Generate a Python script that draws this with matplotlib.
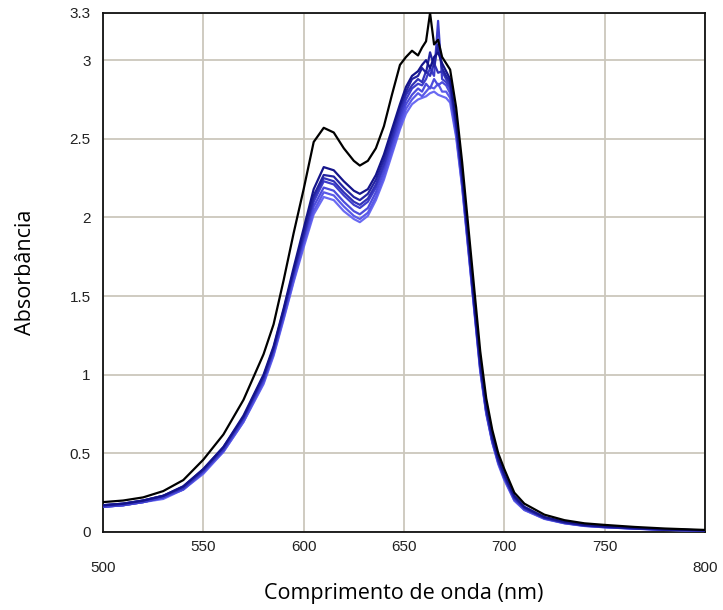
import matplotlib
matplotlib.use('Agg')
import matplotlib.pyplot as plt

# wavelengths (nm)
wl = [500, 510, 520, 530, 540, 550, 560, 570, 580, 585, 590, 595, 600, 605, 610, 615,
      620, 625, 628, 632, 636, 640, 644, 648, 651, 654, 657, 659, 661, 663, 665, 667,
      669, 671, 673, 676, 679, 682, 685, 688, 691, 694, 697, 700, 705, 710, 720, 730,
      740, 750, 765, 780, 800]

black = [0.19, 0.20, 0.22, 0.26, 0.33, 0.46, 0.62, 0.84, 1.13, 1.32, 1.60, 1.90, 2.18, 2.48, 2.57, 2.54,
         2.44, 2.36, 2.33, 2.36, 2.44, 2.58, 2.78, 2.97, 3.02, 3.06, 3.03, 3.08, 3.12, 3.30, 3.10, 3.13,
         3.02, 2.98, 2.94, 2.70, 2.35, 1.95, 1.55, 1.15, 0.85, 0.65, 0.50, 0.40, 0.25, 0.18, 0.11, 0.075,
         0.055, 0.045, 0.032, 0.022, 0.013]

blue1 = [0.17, 0.18, 0.20, 0.23, 0.29, 0.40, 0.54, 0.74, 1.00, 1.18, 1.42, 1.68, 1.93, 2.18, 2.32, 2.30,
         2.23, 2.17, 2.15, 2.18, 2.27, 2.40, 2.56, 2.72, 2.83, 2.90, 2.93, 2.97, 3.00, 2.95, 3.02, 3.05,
         2.98, 2.93, 2.88, 2.62, 2.28, 1.88, 1.47, 1.08, 0.80, 0.61, 0.47, 0.37, 0.23, 0.16, 0.095, 0.065,
         0.045, 0.035, 0.025, 0.017, 0.010]
blue2 = [0.17, 0.18, 0.20, 0.23, 0.29, 0.40, 0.54, 0.73, 0.99, 1.17, 1.41, 1.66, 1.90, 2.14, 2.27, 2.26,
         2.19, 2.13, 2.11, 2.15, 2.24, 2.37, 2.53, 2.70, 2.80, 2.88, 2.90, 2.95, 2.92, 3.05, 2.96, 3.10,
         2.95, 2.90, 2.86, 2.60, 2.26, 1.86, 1.46, 1.07, 0.79, 0.60, 0.46, 0.36, 0.22, 0.155, 0.092, 0.062,
         0.043, 0.034, 0.024, 0.016, 0.010]
blue3 = [0.17, 0.18, 0.20, 0.23, 0.28, 0.39, 0.53, 0.73, 0.98, 1.16, 1.40, 1.65, 1.88, 2.12, 2.25, 2.23,
         2.16, 2.10, 2.08, 2.12, 2.21, 2.34, 2.50, 2.67, 2.78, 2.84, 2.88, 2.86, 2.93, 2.90, 2.98, 2.92,
         2.93, 2.88, 2.84, 2.58, 2.25, 1.85, 1.45, 1.06, 0.78, 0.59, 0.45, 0.35, 0.22, 0.15, 0.09, 0.06,
         0.042, 0.033, 0.023, 0.015, 0.010]
blue4 = [0.16, 0.17, 0.19, 0.22, 0.28, 0.39, 0.52, 0.72, 0.97, 1.15, 1.39, 1.64, 1.87, 2.10, 2.23, 2.21,
         2.14, 2.08, 2.06, 2.10, 2.19, 2.32, 2.48, 2.64, 2.75, 2.82, 2.85, 2.84, 2.88, 2.95, 2.90, 3.25,
         2.88, 2.86, 2.82, 2.57, 2.24, 1.84, 1.44, 1.05, 0.77, 0.58, 0.45, 0.35, 0.21, 0.15, 0.088, 0.058,
         0.041, 0.032, 0.022, 0.015, 0.009]
blue5 = [0.16, 0.17, 0.19, 0.22, 0.27, 0.38, 0.52, 0.71, 0.96, 1.14, 1.37, 1.62, 1.85, 2.07, 2.19, 2.17,
         2.10, 2.04, 2.02, 2.06, 2.16, 2.29, 2.45, 2.61, 2.72, 2.78, 2.82, 2.80, 2.85, 2.82, 2.88, 2.84,
         2.86, 2.84, 2.79, 2.55, 2.22, 1.82, 1.43, 1.04, 0.76, 0.58, 0.44, 0.34, 0.21, 0.145, 0.086, 0.057,
         0.040, 0.031, 0.022, 0.014, 0.009]
blue6 = [0.16, 0.17, 0.19, 0.22, 0.27, 0.38, 0.51, 0.70, 0.95, 1.13, 1.36, 1.60, 1.83, 2.04, 2.16, 2.14,
         2.07, 2.01, 1.99, 2.03, 2.13, 2.26, 2.42, 2.58, 2.69, 2.75, 2.79, 2.77, 2.80, 2.83, 2.82, 2.85,
         2.80, 2.80, 2.76, 2.53, 2.20, 1.81, 1.42, 1.03, 0.76, 0.57, 0.44, 0.34, 0.20, 0.14, 0.085, 0.056,
         0.039, 0.030, 0.021, 0.014, 0.009]
blue7 = [0.16, 0.17, 0.19, 0.21, 0.27, 0.37, 0.51, 0.70, 0.94, 1.12, 1.35, 1.59, 1.81, 2.02, 2.13, 2.11,
         2.04, 1.99, 1.97, 2.01, 2.11, 2.24, 2.40, 2.56, 2.66, 2.72, 2.75, 2.76, 2.77, 2.79, 2.80, 2.78,
         2.77, 2.76, 2.73, 2.51, 2.19, 1.80, 1.41, 1.02, 0.75, 0.57, 0.43, 0.33, 0.20, 0.14, 0.083, 0.055,
         0.038, 0.030, 0.021, 0.013, 0.008]

blues = [blue7, blue6, blue5, blue4, blue3, blue2, blue1]
blue_colors = ['#6a6af2', '#5a5ae8', '#4c4cdc', '#3e3ecc', '#3232b8', '#2424a2', '#14148a']

xticks = [500, 550, 600, 650, 700, 750, 800]
yticks = [0, 0.5, 1, 1.5, 2, 2.5, 3, 3.3]
ytick_labels = ['0', '0.5', '1', '1.5', '2', '2.5', '3', '3.3']

fig = plt.figure(figsize=(7.23, 6.10), dpi=100)
ax = fig.add_axes([0.1425, 0.1279, 0.8325, 0.8508])

for ys, c in zip(blues, blue_colors):
    ax.plot(wl, ys, color=c, lw=1.6, zorder=3)
ax.plot(wl, black, color='black', lw=1.6, zorder=4)

ax.set_xlim(500, 800)
ax.set_ylim(0, 3.3)
ax.set_xticks(xticks)
ax.set_xticklabels([str(t) for t in xticks])
ax.set_yticks(yticks)
ax.set_yticklabels(ytick_labels)
ax.grid(True, color='#cbc7bc', lw=1.3, zorder=0)
ax.set_axisbelow(True)
ax.tick_params(length=0, labelsize=11, colors='#222222')
ax.tick_params(axis='y', pad=9)
ax.tick_params(axis='x', pad=6)
for lab in ax.get_xticklabels() + ax.get_yticklabels():
    lab.set_family('Liberation Sans')

# end labels sit lower than the inner ones
xt = ax.xaxis.get_major_ticks()
xt[0].set_pad(21)
xt[-1].set_pad(21)

for s in ax.spines.values():
    s.set_linewidth(1.3)
    s.set_color('#111111')

ax.set_xlabel('Comprimento de onda (nm)', family='Open Sans', fontsize=15.5, labelpad=6)
ax.set_ylabel('Absorbância', family='Open Sans', fontsize=15.5, labelpad=24)

fig.savefig('out.png', dpi=100, facecolor='white')
